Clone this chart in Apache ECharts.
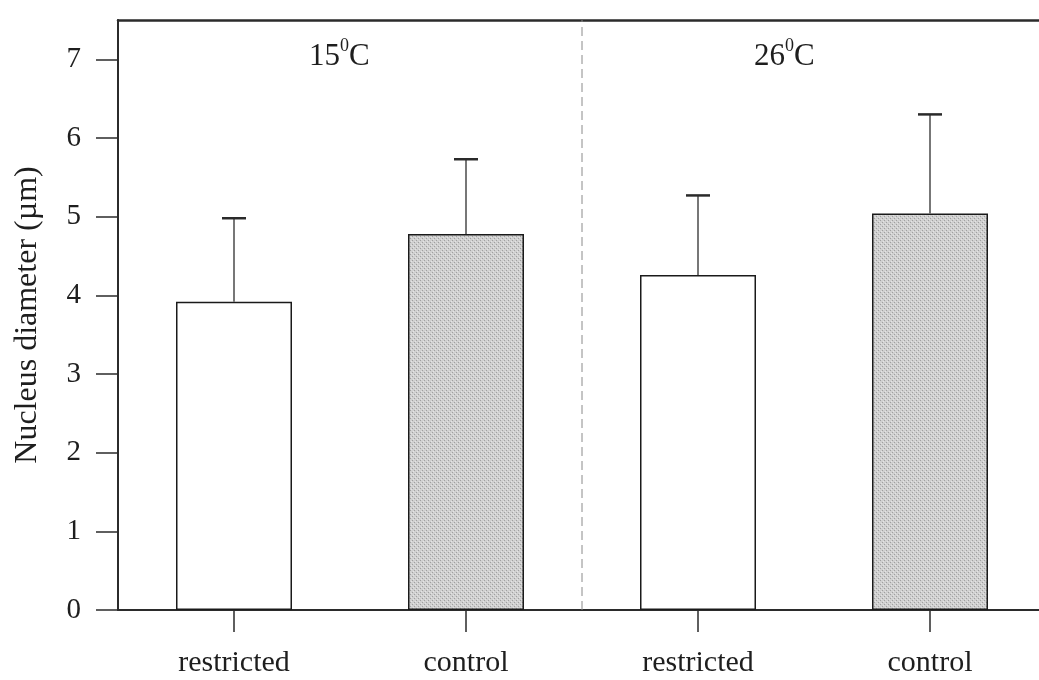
<!DOCTYPE html>
<html>
<head>
<meta charset="utf-8">
<script src="https://cdn.jsdelivr.net/npm/echarts@6/dist/echarts.min.js"></script>
<style>
  html, body { margin: 0; padding: 0; background: #fff; overflow: hidden; }
  /* plot area continues a few pixels past the visible right edge */
  #chart { width: 1046px; height: 680px; }
</style>
</head>
<body>
<div id="chart"></div>
<script>
// Nucleus diameter by feeding regime at two temperatures
const categories = ['restricted', 'control', 'restricted', 'control'];
const meanDiameter = [3.92, 4.78, 4.26, 5.04];
const errorAbove = [1.06, 0.95, 1.01, 1.26];
const yTicks = [0, 1, 2, 3, 4, 5, 6, 7];
const groupLabels = ['15', '26'];

const FONT = '"Liberation Serif", "DejaVu Serif", serif';
const INK = '#2b2b2b';

// fine stippled grey fill for control bars
function makeStipple() {
  const c = document.createElement('canvas');
  c.width = 4; c.height = 4;
  const g = c.getContext('2d');
  g.fillStyle = '#d0d0d0';
  g.fillRect(0, 0, 4, 4);
  g.fillStyle = '#a0a0a0';
  g.fillRect(0, 0, 1, 1);
  g.fillRect(2, 2, 1, 1);
  g.fillStyle = '#e4e4e4';
  g.fillRect(1, 3, 1, 1);
  g.fillRect(3, 1, 1, 1);
  return c;
}
const stipple = makeStipple();

const barData = meanDiameter.map((v, i) => ({
  value: v,
  itemStyle: {
    color: i % 2 === 1 ? { image: stipple, repeat: 'repeat' } : '#ffffff',
    borderColor: '#1a1a1a',
    borderWidth: 1.5
  }
}));

const errData = meanDiameter.map((v, i) => [i, v, v + errorAbove[i]]);

const chart = echarts.init(document.getElementById('chart'), null, { renderer: 'canvas' });

chart.setOption({
  animation: false,
  backgroundColor: '#ffffff',
  grid: { left: 118, right: 0, top: 20, bottom: 70, containLabel: false },
  xAxis: [
    {
      type: 'category',
      data: categories,
      position: 'bottom',
      axisLine: { lineStyle: { color: INK, width: 2 } },
      axisTick: { show: true, alignWithLabel: true, length: 22, lineStyle: { color: INK, width: 1.5 } },
      axisLabel: { color: '#1e1e1e', fontFamily: FONT, fontSize: 30, margin: 38 },
      splitLine: { show: false }
    },
    {
      type: 'category',
      data: categories,
      position: 'top',
      axisLine: { lineStyle: { color: INK, width: 2.5 } },
      axisTick: { show: false },
      axisLabel: { show: false },
      splitLine: { show: false }
    }
  ],
  yAxis: {
    type: 'value',
    min: 0,
    max: 7.5,
    interval: 1,
    name: 'Nucleus diameter (\u00b5m)',
    nameLocation: 'middle',
    nameGap: 74,
    nameTextStyle: { color: '#1e1e1e', fontFamily: FONT, fontSize: 32 },
    axisLine: { show: true, lineStyle: { color: INK, width: 2 } },
    axisTick: { show: true, length: 22, customValues: yTicks, lineStyle: { color: INK, width: 1.5 } },
    axisLabel: { customValues: yTicks, color: '#1e1e1e', fontFamily: FONT, fontSize: 29, margin: 37 },
    splitLine: { show: false }
  },
  series: [
    {
      type: 'bar',
      data: barData,
      barWidth: '50%',
      xAxisIndex: 0,
      z: 2
    },
    {
      // upper error bars with caps
      type: 'custom',
      xAxisIndex: 0,
      z: 3,
      data: errData,
      renderItem: function (params, api) {
        const top = api.coord([api.value(0), api.value(2)]);
        const base = api.coord([api.value(0), api.value(1)]);
        const half = 12;
        return {
          type: 'group',
          children: [
            { type: 'line', shape: { x1: base[0], y1: base[1], x2: top[0], y2: top[1] },
              style: { stroke: '#4a4a4a', lineWidth: 1.5 } },
            { type: 'line', shape: { x1: top[0] - half, y1: top[1], x2: top[0] + half, y2: top[1] },
              style: { stroke: '#2a2a2a', lineWidth: 2.5 } }
          ]
        };
      }
    },
    {
      // dashed divider between the two temperature groups
      type: 'custom',
      xAxisIndex: 0,
      z: 1,
      data: [[1, 2]],
      renderItem: function (params, api) {
        const a = api.coord([api.value(0), 0]);
        const b = api.coord([api.value(1), 0]);
        const x = (a[0] + b[0]) / 2;
        const yTop = api.coord([api.value(0), 7.5])[1];
        return {
          type: 'line',
          shape: { x1: x, y1: a[1], x2: x, y2: yTop },
          style: { stroke: '#8a8a8a', lineWidth: 1, lineDash: [9, 5] }
        };
      }
    }
  ],
  graphic: [
    {
      type: 'text', left: 309, top: 37,
      style: {
        text: '{n|' + groupLabels[0] + '}{s|0}{n|C}',
        rich: {
          n: { fontFamily: FONT, fontSize: 31, fill: '#1e1e1e', verticalAlign: 'bottom', lineHeight: 35 },
          s: { fontFamily: FONT, fontSize: 18, fill: '#1e1e1e', verticalAlign: 'top', lineHeight: 35 }
        }
      }
    },
    {
      type: 'text', left: 754, top: 37,
      style: {
        text: '{n|' + groupLabels[1] + '}{s|0}{n|C}',
        rich: {
          n: { fontFamily: FONT, fontSize: 31, fill: '#1e1e1e', verticalAlign: 'bottom', lineHeight: 35 },
          s: { fontFamily: FONT, fontSize: 18, fill: '#1e1e1e', verticalAlign: 'top', lineHeight: 35 }
        }
      }
    }
  ]
});
</script>
</body>
</html>
